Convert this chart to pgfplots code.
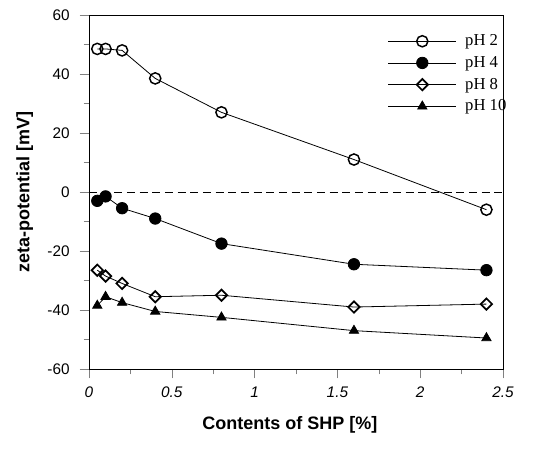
\documentclass[border=0pt]{standalone}
\usepackage{pgfplots}
\pgfplotsset{compat=1.18}
\usepackage{fontspec}
\setmainfont{Liberation Sans}
\newfontfamily\timesfont{Liberation Serif}

\begin{document}
\begin{tikzpicture}
\begin{axis}[
    name=main,
    at={(0,0)}, anchor=south west,
    scale only axis,
    width=310.5pt, height=265.5pt,
    xmin=0, xmax=2.5,
    ymin=-60, ymax=60,
    xtick={0,0.5,1,1.5,2,2.5},
    xticklabels={0,0.5,1,1.5,2,2.5},
    minor xtick={0.25,0.75,1.25,1.75,2.25},
    ytick={-60,-40,-20,0,20,40,60},
    minor ytick={-50,-30,-10,10,30,50},
    xtick pos=bottom, ytick pos=left,
    tick align=outside,
    major tick length=7pt, minor tick length=4pt,
    /pgf/number format/assume math mode=true,
    xticklabel style={font=\fontsize{11.5}{13}\selectfont\itshape, yshift=-3pt},
    yticklabel style={font=\fontsize{11.5}{13}\selectfont, xshift=-4pt},
    xlabel={\textbf{Contents of SHP [\%]}},
    ylabel={\textbf{zeta-potential [mV]}},
    label style={font=\fontsize{13.5}{15}\selectfont},
    xlabel style={at={(axis description cs:0.485,-0.158)}, anchor=center},
    ylabel style={at={(axis description cs:-0.155,0.5)}, anchor=center},
    legend style={draw=none, fill=none, at={(1.025,0.96)}, anchor=north east,
        font=\timesfont\fontsize{12.5}{14}\selectfont, row sep=2.5pt},
    legend cell align=left,
    legend image code/.code={
        \draw[mark repeat=2,mark phase=2] plot coordinates {(0cm,0cm)(0.9cm,0cm)(1.8cm,0cm)};
        \path (1.95cm,0cm);
    },
    every axis plot/.append style={line width=0.6pt, black},
]
\addplot[black, dash pattern=on 6pt off 3.5pt, line width=0.5pt, forget plot] coordinates {(0,0) (2.5,0)};
\addplot[mark=o, mark size=4.2pt, mark options={line width=1.1pt, fill=white}] coordinates {
    (0.05,48.5) (0.1,48.5) (0.2,48) (0.4,38.5) (0.8,27) (1.6,11) (2.4,-6)
};
\addlegendentry{pH 2}
\addplot[mark=*, mark size=4.3pt, mark options={fill=black}] coordinates {
    (0.05,-3) (0.1,-1.5) (0.2,-5.5) (0.4,-9) (0.8,-17.5) (1.6,-24.5) (2.4,-26.5)
};
\addlegendentry{pH 4}
\addplot[mark=square, mark size=3pt, mark options={line width=1.3pt, fill=white, rotate=45}] coordinates {
    (0.05,-26.5) (0.1,-28.5) (0.2,-31) (0.4,-35.5) (0.8,-35) (1.6,-39) (2.4,-38)
};
\addlegendentry{pH 8}
\addplot[mark=triangle*, mark size=4pt, mark options={fill=black}] coordinates {
    (0.05,-38.5) (0.1,-35.5) (0.2,-37.5) (0.4,-40.5) (0.8,-42.5) (1.6,-47) (2.4,-49.5)
};
\addlegendentry{pH 10}
\end{axis}
\path (-66.75pt,-62.25pt) rectangle (346.5pt,276.75pt);
\end{tikzpicture}
\end{document}
